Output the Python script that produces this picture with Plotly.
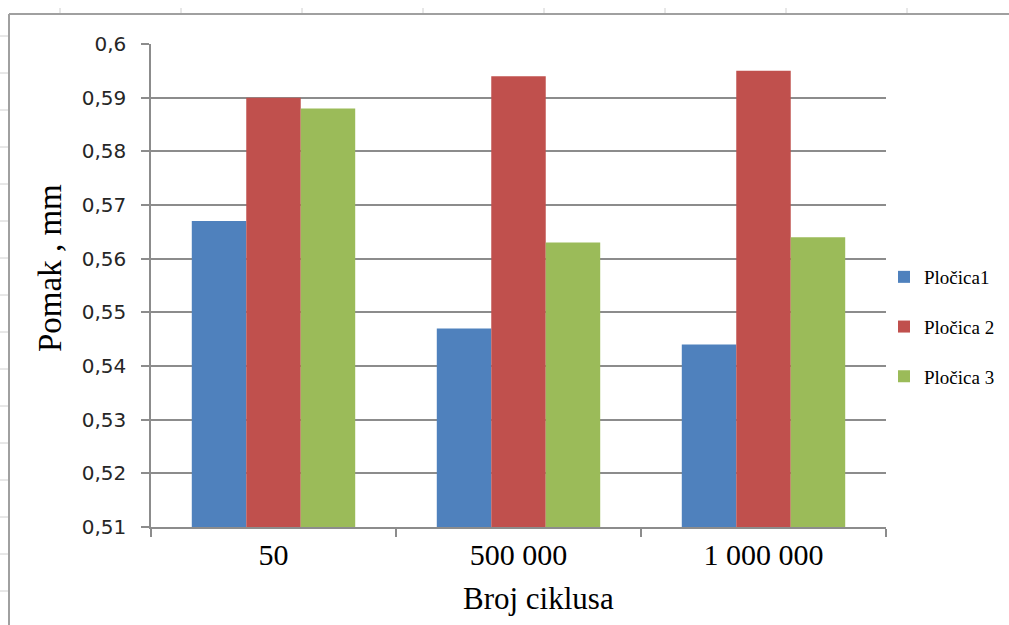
import plotly.graph_objects as go

# data
categories = ["50", "500 000", "1 000 000"]
plocica1 = [0.567, 0.547, 0.544]
plocica2 = [0.590, 0.594, 0.595]
plocica3 = [0.588, 0.563, 0.564]
series_names = ["Pločica1", "Pločica 2", "Pločica 3"]
y_ticks = [0.51, 0.52, 0.53, 0.54, 0.55, 0.56, 0.57, 0.58, 0.59, 0.6]

colors = ["#4F81BD", "#C0504D", "#9BBB59"]

W, H = 1009, 625
L, R, T, B = 151, 886, 44, 527   # plot area in pixels


def px_x(x):
    return (x - L) / (R - L)


def px_y(y):
    return (B - y) / (B - T)


fig = go.Figure()
for name, vals, col in zip(series_names, [plocica1, plocica2, plocica3], colors):
    fig.add_trace(go.Bar(
        x=categories, y=vals, name=name, marker_color=col,
        marker_line_width=0, legendgroup=name,
    ))

serif = "Liberation Serif"

fig.update_layout(
    width=W, height=H,
    margin=dict(l=L, r=W - R, t=T, b=H - B, autoexpand=False),
    paper_bgcolor="white", plot_bgcolor="white",
    barmode="group", bargap=0.333, bargroupgap=0,
    separators=", ",
    showlegend=True,
    legend=dict(
        x=px_x(884), xanchor="left", y=px_y(327), yanchor="middle",
        font=dict(family=serif, size=19, color="black"),
        tracegroupgap=22, bgcolor="rgba(0,0,0,0)",
    ),
)

fig.update_yaxes(
    range=[0.51, 0.6], tickvals=y_ticks, tickformat=".2~f",
    showgrid=True, gridcolor="#8c8c8c", gridwidth=1.5,
    showline=True, linecolor="#8c8c8c", linewidth=1.5,
    ticks="outside", ticklen=8, tickcolor="#8c8c8c", tickwidth=1.5,
    tickfont=dict(family="DejaVu Sans", size=20, color="#262626"),
    ticklabelstandoff=11, zeroline=False,
)
fig.update_xaxes(
    showline=True, linecolor="#8c8c8c", linewidth=1.5,
    ticks="outside", tickson="boundaries", ticklen=8,
    tickcolor="#8c8c8c", tickwidth=1.5,
    tickfont=dict(family=serif, size=30, color="black"),
    showgrid=False,
)

# axis titles
fig.add_annotation(text="Broj ciklusa", x=px_x(538), y=px_y(598),
                   xanchor="center", yanchor="middle",
                   xref="paper", yref="paper", showarrow=False,
                   font=dict(family=serif, size=31, color="black"))
fig.add_annotation(text="Pomak , mm", x=px_x(50), y=px_y(268),
                   xanchor="center", yanchor="middle",
                   xref="paper", yref="paper", showarrow=False, textangle=-90,
                   font=dict(family=serif, size=33, color="black"))

# sheet frame around the chart object
shapes = [
    dict(type="line", xref="paper", yref="paper", x0=px_x(9), x1=px_x(W),
         y0=px_y(14), y1=px_y(14), line=dict(color="#a0a0a0", width=2)),
    dict(type="line", xref="paper", yref="paper", x0=px_x(9), x1=px_x(9),
         y0=px_y(14), y1=px_y(H), line=dict(color="#a0a0a0", width=2)),
]
for tx in range(60, W, 121):
    shapes.append(dict(type="line", xref="paper", yref="paper",
                       x0=px_x(tx), x1=px_x(tx), y0=px_y(8), y1=px_y(13),
                       line=dict(color="#d0d0d0", width=1)))
for ty in range(36, H, 37):
    shapes.append(dict(type="line", xref="paper", yref="paper",
                       x0=px_x(0), x1=px_x(8), y0=px_y(ty), y1=px_y(ty),
                       line=dict(color="#d0d0d0", width=1)))
fig.update_layout(shapes=shapes)

# drop the browser's default body margin so the figure sits at 0,0
fig.write_html("out.html", config={"displayModeBar": False},
               post_script="document.body.style.margin='0';")
